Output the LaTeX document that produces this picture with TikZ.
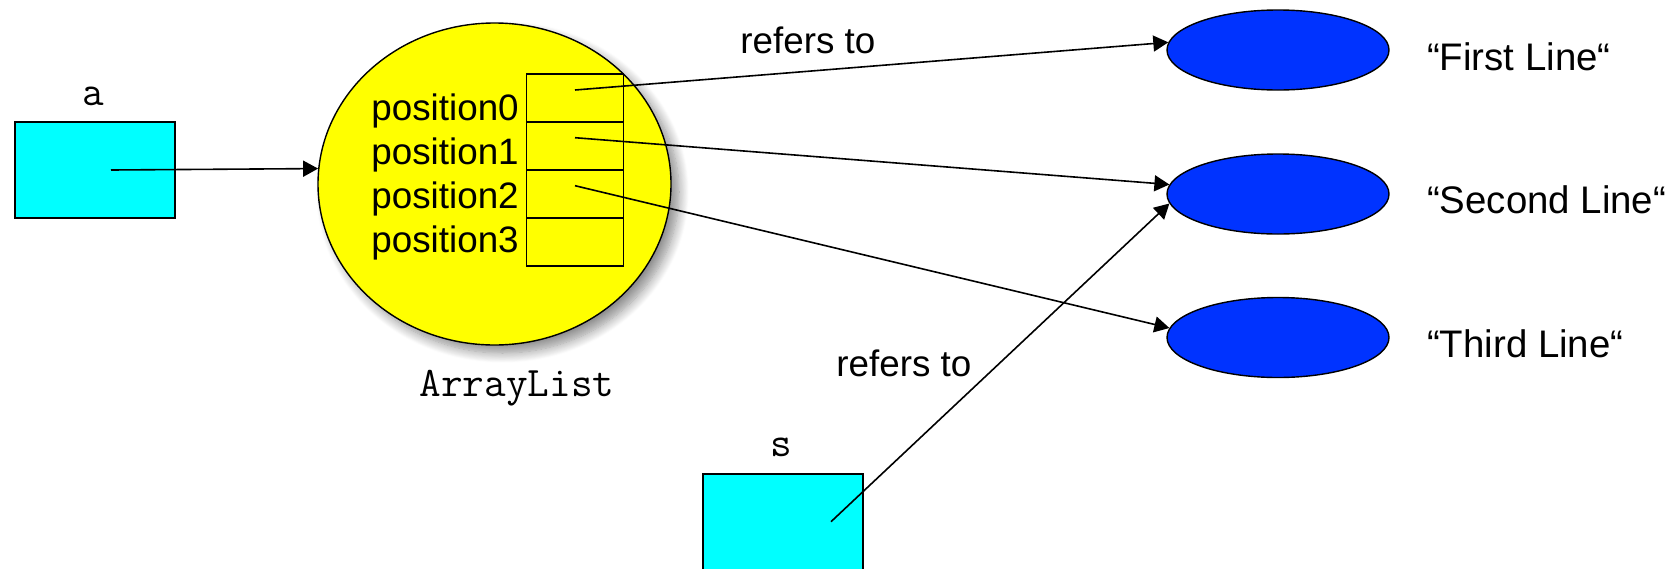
\documentclass[tikz,border=0pt]{standalone}
\usepackage{fontspec}
\setmainfont{Liberation Sans}
\usetikzlibrary{arrows.meta,shapes.geometric,shadows.blur}
\definecolor{boxcyan}{RGB}{0,255,255}
\definecolor{listyellow}{RGB}{255,255,0}
\definecolor{objblue}{RGB}{0,51,255}
\begin{document}
\begin{tikzpicture}[x=0.5pt,y=-0.5pt,
  refbox/.style={draw=black,line width=1pt,fill=boxcyan,minimum width=80pt,minimum height=48pt,inner sep=0pt,outer sep=0pt},
  cellbox/.style={draw=black,line width=0.9pt,minimum width=48.5pt,minimum height=24pt,inner sep=0pt,outer sep=0pt},
  objell/.style={ellipse,draw=black,line width=0.7pt,fill=objblue,minimum width=111pt,minimum height=40pt,inner sep=0pt},
  sanstext/.style={inner sep=0pt,font=\fontsize{18.4}{22}\selectfont},
  labeltext/.style={inner sep=0pt,font=\fontsize{19.2}{23}\selectfont},
  monotext/.style={inner sep=0pt,font=\ttfamily\fontsize{21}{24}\selectfont},
  conn/.style={draw=black,line width=0.8pt,-{Triangle[length=7.5pt,width=8pt]}}
]
\useasboundingbox (0,0) rectangle (1676,568);
% main ArrayList ellipse
\node[ellipse,draw=black,line width=0.7pt,fill=listyellow,minimum width=176.5pt,minimum height=161pt,inner sep=0pt,
  blur shadow={shadow xshift=4pt,shadow yshift=-4pt,shadow blur radius=5pt,shadow blur steps=12,shadow opacity=45}]
  (list) at (494.5,184) {};
% cells
\node[cellbox] (c0) at (575,98) {};
\node[cellbox] (c1) at (575,146) {};
\node[cellbox] (c2) at (575,194) {};
\node[cellbox] (c3) at (575,242) {};
% position labels
\node[sanstext,anchor=base west] (t0) at (371,120) {position0};
\node[sanstext,anchor=base west] (t1) at (371,164) {position1};
\node[sanstext,anchor=base west] (t2) at (371,208) {position2};
\node[sanstext,anchor=base west] (t3) at (371,252) {position3};
\node[monotext,anchor=base] (lname) at (517,396.7) {ArrayList};
% reference boxes
\node[refbox] (a) at (95,169.7) {};
\node[monotext,anchor=base] (alab) at (93,105) {a};
\node[refbox] (s) at (782.7,522) {};
\node[monotext,anchor=base] (slab) at (781.7,456.7) {s};
% string objects
\node[objell] (e1) at (1278,50) {};
\node[objell] (e2) at (1278,194) {};
\node[objell] (e3) at (1278,337.5) {};
\node[labeltext,anchor=base west] (l1) at (1426.7,70) {“First Line“};
\node[labeltext,anchor=base west] (l2) at (1426.7,213) {“Second Line“};
\node[labeltext,anchor=base west] (l3) at (1426.7,357) {“Third Line“};
% refers to labels
\node[sanstext,anchor=base west] (r1) at (740,53.3) {refers to};
\node[sanstext,anchor=base west] (r2) at (836,376.7) {refers to};
% connector start points
\coordinate (pa) at (111,170);
\coordinate (p0) at (575,90);
\coordinate (p1) at (575,137.7);
\coordinate (p2) at (575,185.7);
\coordinate (ps) at (831,521.7);
% connectors
\draw[conn] (pa) -- (list.175.5);
\draw[conn] (p0) -- (e1.176);
\draw[conn] (p1) -- (e2.175);
\draw[conn] (p2) -- (e3.175);
\draw[conn] (ps) -- (e2.185);
\end{tikzpicture}
\end{document}
